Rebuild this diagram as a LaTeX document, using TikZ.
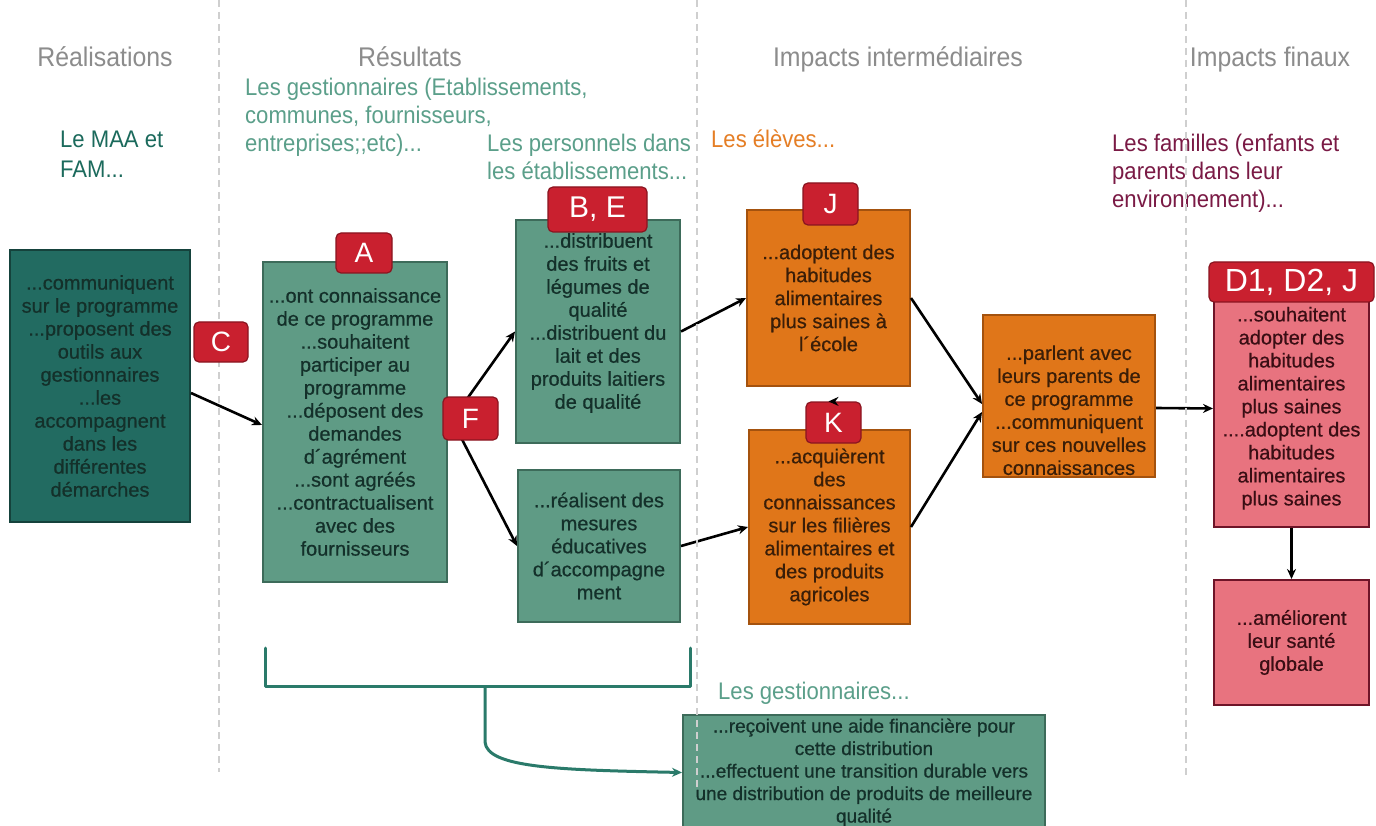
\documentclass[tikz,border=0pt]{standalone}
\usepackage{fontspec}
\setmainfont{Liberation Sans}
\newfontfamily\cf[FakeStretch=0.92]{Liberation Sans}
\newfontfamily\boxfont[FakeBold=0.6]{Liberation Sans}
\usetikzlibrary{arrows.meta}
\definecolor{hdr}{HTML}{8C8C8C}
\definecolor{dashc}{HTML}{CFCFCF}
\definecolor{tealdark}{HTML}{226B61}
\definecolor{tealdarkb}{HTML}{15423C}
\definecolor{greenbox}{HTML}{5F9B85}
\definecolor{greenboxb}{HTML}{3D6B5A}
\definecolor{orangebox}{HTML}{E07619}
\definecolor{orangeboxb}{HTML}{A4520E}
\definecolor{pinkbox}{HTML}{E8737F}
\definecolor{pinkboxb}{HTML}{6E1428}
\definecolor{badgec}{HTML}{C9202F}
\definecolor{badgeb}{HTML}{8A1520}
\definecolor{labteal}{HTML}{5B9F8A}
\definecolor{labmaa}{HTML}{1B6A5C}
\definecolor{laborange}{HTML}{E57E25}
\definecolor{labfam}{HTML}{7A1A45}
\definecolor{txtgreen}{HTML}{14302A}
\definecolor{txtorange}{HTML}{3A1E08}
\definecolor{txtpink}{HTML}{3A0E14}
\definecolor{brk}{HTML}{2A7A6A}
\begin{document}
\begin{tikzpicture}[x=1pt,y=-1pt,
  box/.style={draw, line width=2pt, align=center, inner sep=0pt,
    font=\boxfont\fontsize{20}{23}\selectfont},
  gbox/.style={box, fill=greenbox, draw=greenboxb, text=txtgreen},
  obox/.style={box, fill=orangebox, draw=orangeboxb, text=txtorange},
  pbox/.style={box, fill=pinkbox, draw=pinkboxb, text=txtpink},
  badge/.style={draw=badgeb, fill=badgec, line width=1.2pt, rounded corners=5pt,
    text=white, inner sep=0pt, font=\fontsize{28}{30}\selectfont},
  hdrlab/.style={text=hdr, font=\cf\fontsize{27}{32}\selectfont, anchor=base, inner sep=0pt},
  lab/.style={align=left, anchor=north west, inner sep=0pt, font=\cf\fontsize{24}{28}\selectfont},
  arr/.style={draw=black, line width=2.6pt, -{Stealth[length=10pt,width=9pt]}},
  brkline/.style={draw=brk, line width=3pt},
  sep/.style={draw=dashc, line width=1.2pt, dash pattern=on 7pt off 5pt}
]
\useasboundingbox (0,0) rectangle (1376,826);
\fill[white] (0,0) rectangle (1376,826);

% headers
\node[hdrlab] (h1) at (105,67) {Réalisations};
\node[hdrlab] (h2) at (410,67) {Résultats};
\node[hdrlab] (h3) at (898,67) {Impacts intermédiaires};
\node[hdrlab] (h4) at (1270,67) {Impacts finaux};

% group labels
\node[lab, text=labmaa, font=\cf\fontsize{24}{30}\selectfont] (lmaa) at (60,131) {Le MAA et\\FAM...};
\node[lab, text=labteal] (lgest) at (245,78) {Les gestionnaires (Etablissements,\\communes, fournisseurs,\\entreprises;;etc)...};
\node[lab, text=labteal] (lpers) at (487,134) {Les personnels dans\\les établissements...};
\node[lab, text=laborange] (leleves) at (711,130) {Les élèves...};
\node[lab, text=labfam] (lfam) at (1112,134) {Les familles (enfants et\\parents dans leur\\environnement)...};
\node[lab, text=labteal] (lgest2) at (718,682) {Les gestionnaires...};

% boxes
\node[box, fill=tealdark, draw=tealdarkb, text=txtgreen, minimum width=180, minimum height=272] (left) at (100,386)
  {...communiquent\\sur le programme\\...proposent des\\outils aux\\gestionnaires\\...les\\accompagnent\\dans les\\différentes\\démarches};
\node[gbox, minimum width=184, minimum height=320] (A) at (355,422)
  {...ont connaissance\\de ce programme\\...souhaitent\\participer au\\programme\\...déposent des\\demandes\\d´agrément\\...sont agréés\\...contractualisent\\avec des\\fournisseurs};
\node[gbox, minimum width=164, minimum height=223] (BE) at (598,331.5)
  {...distribuent\\des fruits et\\légumes de\\qualité\\...distribuent du\\lait et des\\produits laitiers\\de qualité\\[-2pt]};
\node[gbox, minimum width=162, minimum height=152] (G2) at (599,546)
  {...réalisent des\\mesures\\éducatives\\d´accompagne\\ment};
\node[obox, minimum width=163, minimum height=176] (J) at (828.5,298)
  {...adoptent des\\habitudes\\alimentaires\\plus saines à\\l´école};
\node[obox, minimum width=161, minimum height=194] (K) at (829.5,527)
  {...acquièrent\\des\\connaissances\\sur les filières\\alimentaires et\\des produits\\agricoles};
\node[obox, minimum width=172, minimum height=162] (M) at (1069,396)
  {\\[20pt]...parlent avec\\leurs parents de\\ce programme\\...communiquent\\sur ces nouvelles\\connaissances};
\node[pbox, minimum width=155, minimum height=237] (D) at (1291.5,408.5)
  {\\[-9pt]...souhaitent\\adopter des\\habitudes\\alimentaires\\plus saines\\....adoptent des\\habitudes\\alimentaires\\plus saines};
\node[pbox, minimum width=155, minimum height=125] (P) at (1291.5,642.5)
  {...améliorent\\leur santé\\globale};
\node[gbox, font=\boxfont\fontsize{19}{22.5}\selectfont, minimum width=362, minimum height=115] (BB) at (864,772.5)
  {...reçoivent une aide financière pour\\cette distribution\\...effectuent une transition durable vers\\une distribution de produits de meilleure\\qualité};

% connectors
\coordinate (fork) at (452,420);
\draw[arr] ([yshift=-7pt]left.east) -- ([yshift=-3pt]A.west);
\draw[arr] (fork) -- (BE.west);
\draw[arr] (fork) -- (G2.west);
\draw[arr] (BE.east) -- (J.west);
\draw[arr] (G2.east) -- (K.west);
\draw[arr] (J.east) -- ([yshift=-8pt]M.west);
\draw[arr] (K.east) -- ([yshift=-16pt]M.west);
\draw[arr] ([yshift=-12pt]M.east) -- (D.west);
\draw[arr] (D.south) -- (P.north);

% bracket
\coordinate (br1) at (265,648);
\coordinate (br2) at (265,686);
\coordinate (br3) at (690,686);
\coordinate (br4) at (690,648);
\coordinate (brm) at (485,686);
\draw[brkline, line cap=round, line join=round] (br1) -- (br2) -- (br3) -- (br4);
\draw[brkline, -{Stealth[length=10pt,width=9pt]}] (brm) -- (485,742) .. controls (487,768) and (560,770) .. (BB.west);

% dashed separators
\draw[sep] (219,0) -- (219,772);
\draw[sep] (697,0) -- (697,790);
\draw[sep] (1186,0) -- (1186,776);

% badges
\node[badge, minimum width=54, minimum height=40] (bC) at (221,342) {C};
\node[badge, minimum width=56, minimum height=40] (bA) at (364,253) {A};
\node[badge, minimum width=99, minimum height=45, font=\fontsize{30}{32}\selectfont] (bBE) at (597.5,209.5) {B, E};
\node[badge, minimum width=55, minimum height=43] (bF) at (470.5,418.5) {F};
\node[badge, minimum width=55, minimum height=42] (bJ) at (830.5,204) {J};
\node[badge, minimum width=55, minimum height=41] (bK) at (833.5,422.5) {K};
\node[badge, minimum width=165, minimum height=40, font=\fontsize{32}{34}\selectfont] (bD) at (1291.5,282) {D1, D2, J};
\draw[arr] (bK.north) -- (bK.north -| J.south);
\end{tikzpicture}
\end{document}
